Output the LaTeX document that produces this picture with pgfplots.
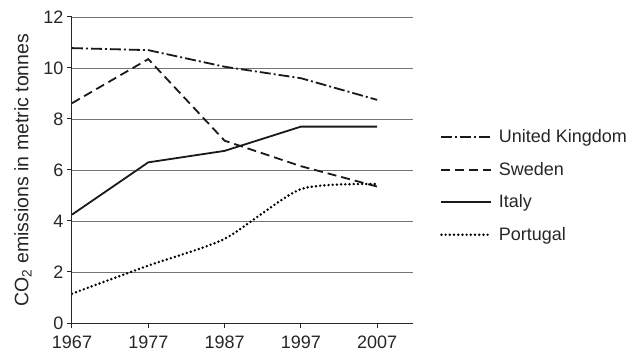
\documentclass[border=0pt]{standalone}
\usepackage{pgfplots}
\pgfplotsset{compat=1.18}
\usepackage{fontspec}
\setmainfont{Liberation Sans}
\begin{document}
\begin{tikzpicture}[x=1pt,y=1pt]
\begin{axis}[
  at={(0pt,0pt)}, anchor=south west,
  scale only axis, width=341pt, height=306pt,
  xmin=1967, xmax=2011.7, ymin=0, ymax=12,
  axis x line*=bottom, axis y line*=left,
  axis line style={line width=1pt, black!85},
  xtick={1967,1977,1987,1997,2007},
  ytick={0,2,4,6,8,10,12},
  tick align=outside, major tick length=5pt,
  tick style={line width=1pt, black!85},
  xticklabel style={/pgf/number format/1000 sep={}, yshift=-4pt},
  /pgf/number format/assume math mode=true,
  ymajorgrids, grid style={black!55, line width=0.8pt},
  ticklabel style={font=\fontsize{18}{21}\selectfont, text=black!85},
  ylabel={CO\textsubscript{2} emissions in metric tonnes},
  ylabel style={font=\fontsize{19.5}{22}\selectfont, text=black!85, yshift=5pt},
  legend style={at={(1.07,0.645)}, anchor=north west, draw=none, fill=none,
    font=\fontsize{18}{21}\selectfont, text=black!85, row sep=14pt,
    nodes={inner xsep=6pt}},
  legend cell align=left,
  legend image code/.code={\draw[#1] (0pt,0pt) -- (50pt,0pt);},
]
\addplot[black!90, line width=1.8pt, dash pattern=on 11pt off 3pt on 2pt off 3pt] coordinates {(1967,10.78) (1977,10.7) (1987,10.05) (1997,9.6) (2007,8.75)};
\addlegendentry{United Kingdom}
\addplot[black!90, line width=1.8pt, dash pattern=on 9pt off 5pt] coordinates {(1967,8.62) (1977,10.35) (1987,7.15) (1997,6.15) (2007,5.35)};
\addlegendentry{Sweden}
\addplot[black!90, line width=1.8pt] coordinates {(1967,4.25) (1977,6.3) (1987,6.75) (1997,7.7) (2007,7.7)};
\addlegendentry{Italy}
\addplot[black, line width=2.7pt, line cap=round, dash pattern=on 0pt off 4.2pt, smooth, tension=0.4] coordinates {(1967,1.15) (1977,2.25) (1987,3.3) (1997,5.25) (2007,5.45)};
\addlegendentry{Portugal}
\end{axis}
\path[use as bounding box] (-72pt,-41pt) rectangle (568pt,323pt);
\end{tikzpicture}
\end{document}
